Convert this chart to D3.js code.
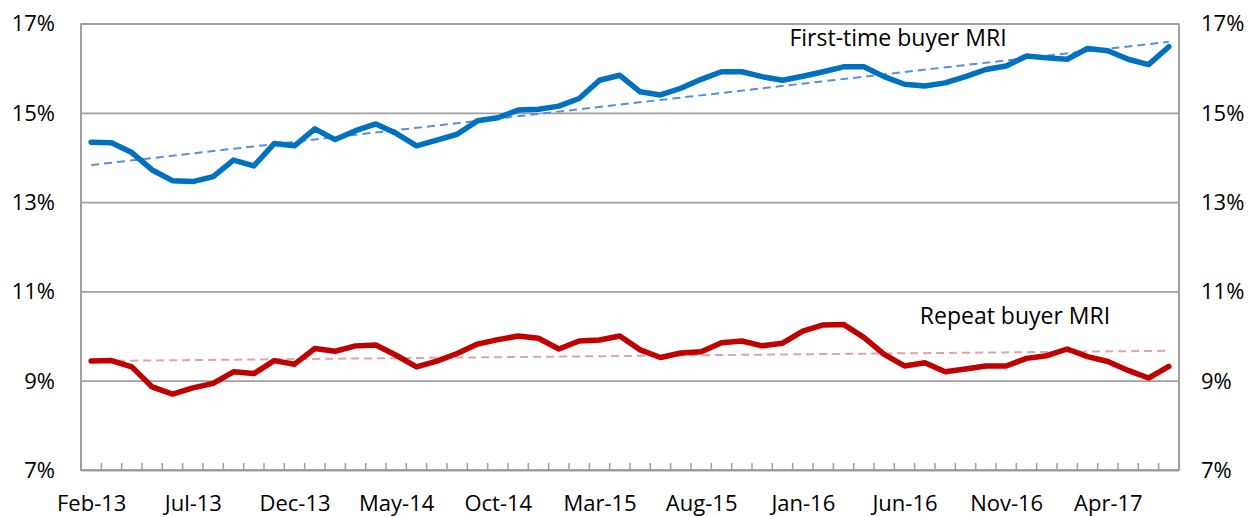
<!DOCTYPE html>
<html><head><meta charset="utf-8">
<script src="https://cdn.jsdelivr.net/npm/d3@7"></script>
<style>
html,body{margin:0;padding:0;background:#fff;}
svg{display:block;font-family:"Open Sans",sans-serif;}
</style></head>
<body>
<svg id="chart" width="1252" height="517"></svg>
<script>
const months = ["Feb-13","Mar-13","Apr-13","May-13","Jun-13","Jul-13","Aug-13","Sep-13","Oct-13","Nov-13","Dec-13",
"Jan-14","Feb-14","Mar-14","Apr-14","May-14","Jun-14","Jul-14","Aug-14","Sep-14","Oct-14","Nov-14","Dec-14",
"Jan-15","Feb-15","Mar-15","Apr-15","May-15","Jun-15","Jul-15","Aug-15","Sep-15","Oct-15","Nov-15","Dec-15",
"Jan-16","Feb-16","Mar-16","Apr-16","May-16","Jun-16","Jul-16","Aug-16","Sep-16","Oct-16","Nov-16","Dec-16",
"Jan-17","Feb-17","Mar-17","Apr-17","May-17","Jun-17","Jul-17"];
const labelledMonths = ["Feb-13","Jul-13","Dec-13","May-14","Oct-14","Mar-15","Aug-15","Jan-16","Jun-16","Nov-16","Apr-17"];
const firstTimeMRI = [14.34,14.33,14.11,13.72,13.48,13.46,13.57,13.94,13.81,14.31,14.26,14.64,14.40,14.60,14.75,14.54,14.26,14.39,14.52,14.82,
14.89,15.06,15.08,15.15,15.32,15.73,15.84,15.47,15.40,15.55,15.75,15.92,15.92,15.81,15.73,15.82,15.92,16.03,16.03,15.81,
15.64,15.60,15.67,15.81,15.97,16.05,16.27,16.23,16.20,16.44,16.39,16.20,16.08,16.48];
const repeatMRI = [9.44,9.45,9.31,8.86,8.70,8.84,8.94,9.20,9.16,9.45,9.37,9.72,9.66,9.78,9.80,9.57,9.31,9.44,9.61,9.82,
9.92,10.00,9.95,9.71,9.89,9.91,10.00,9.69,9.52,9.62,9.65,9.85,9.89,9.78,9.84,10.11,10.25,10.26,9.97,9.59,
9.33,9.40,9.20,9.26,9.33,9.33,9.50,9.56,9.71,9.54,9.43,9.23,9.06,9.32];
const firstTimeTrend = [13.83, 16.59];   // trend line at first and last month
const repeatTrend = [9.44, 9.67];
const yTicks = [7, 9, 11, 13, 15, 17];
const seriesNames = ["First-time buyer MRI", "Repeat buyer MRI"];

const svg = d3.select("#chart");
const L = 81, R = 1179, T = 23.5, B = 470;
const x = d3.scalePoint().domain(months).range([L, R]).padding(0.5);
const y = d3.scaleLinear().domain([7, 17]).range([B, T]);
const grey = "#a0a0a0";
const fontSize = 22;

// gridlines
const grid = svg.append("g").attr("transform", `translate(${L},0)`)
  .call(d3.axisLeft(y).tickValues(yTicks).tickSize(-(R - L)).tickFormat(""));
grid.select(".domain").remove();
grid.selectAll("line").attr("stroke", grey).attr("stroke-width", 1.8);

// left axis labels
const ly = svg.append("g").attr("transform", `translate(${L},0)`)
  .call(d3.axisLeft(y).tickValues(yTicks).tickSize(0).tickPadding(26).tickFormat(d => d + "%"));
ly.select(".domain").remove();
ly.selectAll("text").attr("font-size", fontSize).attr("font-family", "Open Sans").attr("fill", "#000").attr("dy", "0.34em");

// right axis labels
const ry = svg.append("g").attr("transform", `translate(${R},0)`)
  .call(d3.axisRight(y).tickValues(yTicks).tickSize(0).tickPadding(22).tickFormat(d => d + "%"));
ry.select(".domain").remove();
ry.selectAll("text").attr("font-size", fontSize).attr("font-family", "Open Sans").attr("fill", "#000").attr("dy", "0.34em");

// frame lines (left, right, bottom)
svg.append("line").attr("x1", L).attr("x2", L).attr("y1", T).attr("y2", B).attr("stroke", grey).attr("stroke-width", 2);
svg.append("line").attr("x1", R).attr("x2", R).attr("y1", T).attr("y2", B).attr("stroke", grey).attr("stroke-width", 2);
svg.append("line").attr("x1", L - 1).attr("x2", R + 1).attr("y1", B).attr("y2", B).attr("stroke", grey).attr("stroke-width", 2);

// category boundary ticks (inside)
const step = x.step();
const tickG = svg.append("g");
months.slice(1).forEach((m, i) => {
  const bx = x(m) - step / 2;
  tickG.append("line").attr("x1", bx).attr("x2", bx).attr("y1", B).attr("y2", B - 7)
    .attr("stroke", grey).attr("stroke-width", 1.5);
});

// bottom labels
const bx = svg.append("g").attr("transform", `translate(0,${B})`)
  .call(d3.axisBottom(x).tickValues(labelledMonths).tickSize(0).tickPadding(25));
bx.select(".domain").remove();
bx.selectAll("text").attr("font-size", fontSize).attr("font-family", "Open Sans").attr("fill", "#000");

// trend lines
const first = months[0], last = months[months.length - 1];
svg.append("line").attr("x1", x(first)).attr("x2", x(last))
  .attr("y1", y(firstTimeTrend[0])).attr("y2", y(firstTimeTrend[1]))
  .attr("stroke", "#5b8fdb").attr("stroke-width", 2).attr("stroke-dasharray", "8,5");
svg.append("line").attr("x1", x(first)).attr("x2", x(last))
  .attr("y1", y(repeatTrend[0])).attr("y2", y(repeatTrend[1]))
  .attr("stroke", "#e3a3a3").attr("stroke-width", 2).attr("stroke-dasharray", "8,5");

// series lines
const line = d3.line().x((d, i) => x(months[i])).y(d => y(d));
svg.append("path").datum(firstTimeMRI).attr("d", line).attr("fill", "none")
  .attr("stroke", "#0070c0").attr("stroke-width", 5.5).attr("stroke-linejoin", "round").attr("stroke-linecap", "round");
svg.append("path").datum(repeatMRI).attr("d", line).attr("fill", "none")
  .attr("stroke", "#c00000").attr("stroke-width", 5.5).attr("stroke-linejoin", "round").attr("stroke-linecap", "round");

// series labels
svg.append("text").attr("x", 898).attr("y", 46).attr("text-anchor", "middle")
  .attr("font-size", 23).attr("fill", "#000").text(seriesNames[0]);
svg.append("text").attr("x", 1015).attr("y", 324).attr("text-anchor", "middle")
  .attr("font-size", 23).attr("fill", "#000").text(seriesNames[1]);
</script>
</body></html>
